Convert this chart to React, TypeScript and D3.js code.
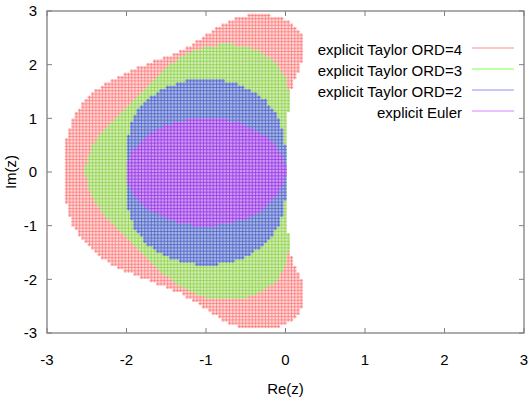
import { useMemo } from "react";
import * as d3 from "d3";

const W = 531;
const H = 403;
const MARGIN = { top: 11, right: 7, bottom: 70, left: 47 };

// legend labels and the Taylor order of each method (drawn in this order)
const methods = ["explicit Taylor ORD=4", "explicit Taylor ORD=3", "explicit Taylor ORD=2", "explicit Euler"];
const orders = [4, 3, 2, 1];
const lineColors = ["#ff7a7a", "#8ed24a", "#4a62c8", "#9434e6"];
const cellColors = ["#ffd6d6", "#d2ecb4", "#a8b4e4", "#cc98f2"];
const legendColors = ["#ffb4b4", "#a8ff80", "#b4b4ff", "#e8a8ff"];

const xTicks = [-3, -2, -1, 0, 1, 2, 3];
const yTicks = [-3, -2, -1, 0, 1, 2, 3];
const domainRe = [-3, 3];
const domainIm = [-3, 3];
const stepRe = 0.041;
const stepIm = 0.061;

// |sum_{k<=p} z^k/k!| <= 1 ?
const stable = (re: number, im: number, p: number) => {
  let sr = 1, si = 0, tr = 1, ti = 0;
  for (let k = 1; k <= p; k++) {
    const nr = (tr * re - ti * im) / k;
    const ni = (tr * im + ti * re) / k;
    tr = nr; ti = ni;
    sr += tr; si += ti;
  }
  return sr * sr + si * si <= 1;
};

const App = () => {
  const boundsW = W - MARGIN.left - MARGIN.right;
  const boundsH = H - MARGIN.top - MARGIN.bottom;
  const x = d3.scaleLinear().domain(domainRe).range([0, boundsW]);
  const y = d3.scaleLinear().domain(domainIm).range([boundsH, 0]);

  const layers = useMemo(() => {
    const hx = (x(stepRe) - x(0)) * 0.5;
    const hy = (y(0) - y(stepIm)) * 0.5;
    return orders.map((p) => {
      let cells = "";
      let marks = "";
      for (let re = domainRe[0]; re <= domainRe[1] + 1e-9; re += stepRe) {
        for (let im = domainIm[0]; im <= domainIm[1] + 1e-9; im += stepIm) {
          if (!stable(re, im, p)) continue;
          const px = x(re), py = y(im);
          cells += `M${(px - hx).toFixed(1)},${(py - hy).toFixed(1)}h${(2 * hx).toFixed(1)}v${(2 * hy).toFixed(1)}h${(-2 * hx).toFixed(1)}z`;
          marks += `M${(px - hx).toFixed(1)},${py.toFixed(1)}h${(2 * hx).toFixed(1)}M${px.toFixed(1)},${(py - hy).toFixed(1)}v${(2 * hy).toFixed(1)}`;
        }
      }
      return { cells, marks };
    });
  }, []);

  const frame = "#808080";
  const font = "'Liberation Sans', Arial, sans-serif";

  return (
    <svg width={W} height={H} style={{ position: "absolute", left: 0, top: 0, background: "white" }} fontFamily={font}>
      <defs>
        <clipPath id="plot">
          <rect x={0} y={0} width={boundsW} height={boundsH} />
        </clipPath>
      </defs>
      <g transform={`translate(${MARGIN.left},${MARGIN.top})`}>
        <g clipPath="url(#plot)">
          {layers.map((l, i) => (
            <g key={i}>
              <path d={l.cells} fill={cellColors[i]} stroke="none" />
              <path d={l.marks} stroke={lineColors[i]} strokeOpacity={0.85} strokeWidth={0.9} fill="none" />
            </g>
          ))}
        </g>
        {/* frame and ticks */}
        <rect x={0} y={0} width={boundsW} height={boundsH} fill="none" stroke={frame} strokeWidth={1.3} />
        {xTicks.map((t) => (
          <g key={"x" + t}>
            <line x1={x(t)} x2={x(t)} y1={boundsH} y2={boundsH - 5} stroke={frame} />
            <line x1={x(t)} x2={x(t)} y1={0} y2={5} stroke={frame} />
            <text x={x(t)} y={boundsH + 32} textAnchor="middle" fontSize={15}>{t}</text>
          </g>
        ))}
        {yTicks.map((t) => (
          <g key={"y" + t}>
            <line x1={0} x2={5} y1={y(t)} y2={y(t)} stroke={frame} />
            <line x1={boundsW} x2={boundsW - 5} y1={y(t)} y2={y(t)} stroke={frame} />
            <text x={-10} y={y(t)} dy="0.35em" textAnchor="end" fontSize={15}>{t}</text>
          </g>
        ))}
        <text x={boundsW / 2} y={boundsH + 61} textAnchor="middle" fontSize={15}>Re(z)</text>
        <text transform={`translate(${-31},${boundsH / 2}) rotate(-90)`} textAnchor="middle" fontSize={15}>Im(z)</text>
        {/* legend */}
        {methods.map((m, i) => (
          <g key={m} transform={`translate(0,${39 + i * 21})`}>
            <text x={415} y={0} dy="0.35em" textAnchor="end" fontSize={15}>{m}</text>
            <line x1={425} x2={467} y1={-2} y2={-2} stroke={legendColors[i]} strokeWidth={1.5} />
          </g>
        ))}
      </g>
    </svg>
  );
};

export default App;
